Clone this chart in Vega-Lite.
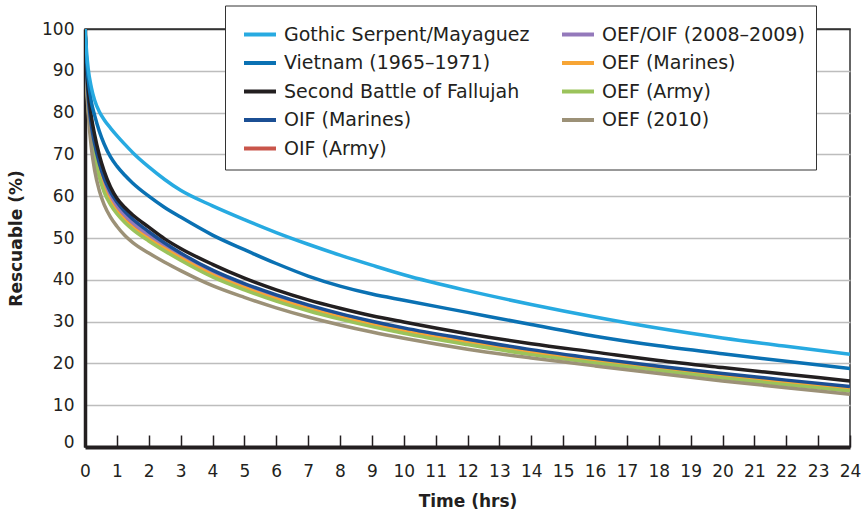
{
  "$schema": "https://vega.github.io/schema/vega-lite/v6.json",
  "width": 765,
  "height": 418,
  "autosize": {"type": "none"},
  "padding": {"left": 85, "top": 29, "right": 18, "bottom": 70},
  "background": "white",
  "config": {
    "font": "DejaVu Sans",
    "view": {"stroke": "#333333", "strokeWidth": 1.5},
    "axis": {"labelColor": "#231f20", "titleColor": "#231f20"}
  },
  "data": {
    "values": [
      {"t": 0, "OIF (Army)": 100, "OEF/OIF (2008–2009)": 100, "OEF (Marines)": 100, "OEF (Army)": 100, "OEF (2010)": 100, "OIF (Marines)": 100, "Second Battle of Fallujah": 100, "Vietnam (1965–1971)": 100, "Gothic Serpent/Mayaguez": 100},
      {"t": 0.05, "OIF (Army)": 89, "OEF/OIF (2008–2009)": 89.5, "OEF (Marines)": 88.5, "OEF (Army)": 88, "OEF (2010)": 87, "OIF (Marines)": 90.5, "Second Battle of Fallujah": 91, "Vietnam (1965–1971)": 92.5, "Gothic Serpent/Mayaguez": 94.5},
      {"t": 0.1, "OIF (Army)": 82, "OEF/OIF (2008–2009)": 82.5, "OEF (Marines)": 81.5, "OEF (Army)": 81, "OEF (2010)": 80, "OIF (Marines)": 84, "Second Battle of Fallujah": 85.5, "Vietnam (1965–1971)": 88, "Gothic Serpent/Mayaguez": 90.5},
      {"t": 0.2, "OIF (Army)": 74.8, "OEF/OIF (2008–2009)": 75.5, "OEF (Marines)": 74.2, "OEF (Army)": 73.6, "OEF (2010)": 71.5, "OIF (Marines)": 77, "Second Battle of Fallujah": 79, "Vietnam (1965–1971)": 82.5, "Gothic Serpent/Mayaguez": 86},
      {"t": 0.3, "OIF (Army)": 70.4, "OEF/OIF (2008–2009)": 71.2, "OEF (Marines)": 69.7, "OEF (Army)": 69.2, "OEF (2010)": 66.3, "OIF (Marines)": 72.6, "Second Battle of Fallujah": 74.8, "Vietnam (1965–1971)": 79.4, "Gothic Serpent/Mayaguez": 83},
      {"t": 0.45, "OIF (Army)": 65.8, "OEF/OIF (2008–2009)": 66.6, "OEF (Marines)": 65, "OEF (Army)": 64.5, "OEF (2010)": 61.3, "OIF (Marines)": 67.8, "Second Battle of Fallujah": 69.8, "Vietnam (1965–1971)": 75.5, "Gothic Serpent/Mayaguez": 80.2},
      {"t": 0.6, "OIF (Army)": 62.4, "OEF/OIF (2008–2009)": 63.2, "OEF (Marines)": 61.6, "OEF (Army)": 61, "OEF (2010)": 58, "OIF (Marines)": 64.3, "Second Battle of Fallujah": 66, "Vietnam (1965–1971)": 72.5, "Gothic Serpent/Mayaguez": 78.3},
      {"t": 0.8, "OIF (Army)": 59.3, "OEF/OIF (2008–2009)": 60, "OEF (Marines)": 58.6, "OEF (Army)": 58, "OEF (2010)": 55, "OIF (Marines)": 61, "Second Battle of Fallujah": 62.2, "Vietnam (1965–1971)": 69.4, "Gothic Serpent/Mayaguez": 76.3},
      {"t": 1, "OIF (Army)": 57, "OEF/OIF (2008–2009)": 57.6, "OEF (Marines)": 56.3, "OEF (Army)": 55.8, "OEF (2010)": 52.8, "OIF (Marines)": 58.6, "Second Battle of Fallujah": 59.5, "Vietnam (1965–1971)": 67.2, "Gothic Serpent/Mayaguez": 74.5},
      {"t": 1.25, "OIF (Army)": 54.8, "OEF/OIF (2008–2009)": 55.4, "OEF (Marines)": 54.2, "OEF (Army)": 53.7, "OEF (2010)": 50.6, "OIF (Marines)": 56.3, "Second Battle of Fallujah": 57.3, "Vietnam (1965–1971)": 65, "Gothic Serpent/Mayaguez": 72.4},
      {"t": 1.5, "OIF (Army)": 53, "OEF/OIF (2008–2009)": 53.6, "OEF (Marines)": 52.5, "OEF (Army)": 52, "OEF (2010)": 48.9, "OIF (Marines)": 54.5, "Second Battle of Fallujah": 55.5, "Vietnam (1965–1971)": 63.1, "Gothic Serpent/Mayaguez": 70.4},
      {"t": 2, "OIF (Army)": 50.2, "OEF/OIF (2008–2009)": 50.6, "OEF (Marines)": 49.8, "OEF (Army)": 49.3, "OEF (2010)": 46.4, "OIF (Marines)": 51.5, "Second Battle of Fallujah": 52.6, "Vietnam (1965–1971)": 60, "Gothic Serpent/Mayaguez": 67},
      {"t": 2.5, "OIF (Army)": 47.7, "OEF/OIF (2008–2009)": 48, "OEF (Marines)": 47.4, "OEF (Army)": 46.9, "OEF (2010)": 44.2, "OIF (Marines)": 48.8, "Second Battle of Fallujah": 49.8, "Vietnam (1965–1971)": 57.3, "Gothic Serpent/Mayaguez": 64},
      {"t": 3, "OIF (Army)": 45.4, "OEF/OIF (2008–2009)": 45.7, "OEF (Marines)": 45.2, "OEF (Army)": 44.7, "OEF (2010)": 42.2, "OIF (Marines)": 46.4, "Second Battle of Fallujah": 47.5, "Vietnam (1965–1971)": 55, "Gothic Serpent/Mayaguez": 61.4},
      {"t": 4, "OIF (Army)": 41.4, "OEF/OIF (2008–2009)": 41.7, "OEF (Marines)": 41.2, "OEF (Army)": 40.7, "OEF (2010)": 38.6, "OIF (Marines)": 42.3, "Second Battle of Fallujah": 43.7, "Vietnam (1965–1971)": 50.7, "Gothic Serpent/Mayaguez": 57.7},
      {"t": 5, "OIF (Army)": 38.3, "OEF/OIF (2008–2009)": 38.6, "OEF (Marines)": 38.1, "OEF (Army)": 37.6, "OEF (2010)": 35.8, "OIF (Marines)": 39.1, "Second Battle of Fallujah": 40.4, "Vietnam (1965–1971)": 47.2, "Gothic Serpent/Mayaguez": 54.4},
      {"t": 6, "OIF (Army)": 35.6, "OEF/OIF (2008–2009)": 35.9, "OEF (Marines)": 35.4, "OEF (Army)": 34.9, "OEF (2010)": 33.3, "OIF (Marines)": 36.4, "Second Battle of Fallujah": 37.6, "Vietnam (1965–1971)": 43.9, "Gothic Serpent/Mayaguez": 51.3},
      {"t": 7, "OIF (Army)": 33.3, "OEF/OIF (2008–2009)": 33.6, "OEF (Marines)": 33.1, "OEF (Army)": 32.6, "OEF (2010)": 31.1, "OIF (Marines)": 34, "Second Battle of Fallujah": 35.2, "Vietnam (1965–1971)": 40.9, "Gothic Serpent/Mayaguez": 48.5},
      {"t": 8, "OIF (Army)": 31.3, "OEF/OIF (2008–2009)": 31.5, "OEF (Marines)": 31.1, "OEF (Army)": 30.6, "OEF (2010)": 29.2, "OIF (Marines)": 31.9, "Second Battle of Fallujah": 33.2, "Vietnam (1965–1971)": 38.5, "Gothic Serpent/Mayaguez": 45.9},
      {"t": 9, "OIF (Army)": 29.5, "OEF/OIF (2008–2009)": 29.7, "OEF (Marines)": 29.3, "OEF (Army)": 28.8, "OEF (2010)": 27.5, "OIF (Marines)": 30.1, "Second Battle of Fallujah": 31.4, "Vietnam (1965–1971)": 36.6, "Gothic Serpent/Mayaguez": 43.5},
      {"t": 10, "OIF (Army)": 27.9, "OEF/OIF (2008–2009)": 28.1, "OEF (Marines)": 27.7, "OEF (Army)": 27.2, "OEF (2010)": 26, "OIF (Marines)": 28.5, "Second Battle of Fallujah": 29.9, "Vietnam (1965–1971)": 35.1, "Gothic Serpent/Mayaguez": 41.2},
      {"t": 12, "OIF (Army)": 25.2, "OEF/OIF (2008–2009)": 25.4, "OEF (Marines)": 25, "OEF (Army)": 24.5, "OEF (2010)": 23.4, "OIF (Marines)": 25.8, "Second Battle of Fallujah": 27.1, "Vietnam (1965–1971)": 32.2, "Gothic Serpent/Mayaguez": 37.4},
      {"t": 14, "OIF (Army)": 22.8, "OEF/OIF (2008–2009)": 23, "OEF (Marines)": 22.6, "OEF (Army)": 22.1, "OEF (2010)": 21.3, "OIF (Marines)": 23.3, "Second Battle of Fallujah": 24.7, "Vietnam (1965–1971)": 29.3, "Gothic Serpent/Mayaguez": 34.1},
      {"t": 16, "OIF (Army)": 20.7, "OEF/OIF (2008–2009)": 20.9, "OEF (Marines)": 20.6, "OEF (Army)": 20.1, "OEF (2010)": 19.4, "OIF (Marines)": 21.2, "Second Battle of Fallujah": 22.7, "Vietnam (1965–1971)": 26.5, "Gothic Serpent/Mayaguez": 31.1},
      {"t": 18, "OIF (Army)": 18.9, "OEF/OIF (2008–2009)": 19, "OEF (Marines)": 18.8, "OEF (Army)": 18.3, "OEF (2010)": 17.6, "OIF (Marines)": 19.3, "Second Battle of Fallujah": 20.7, "Vietnam (1965–1971)": 24.2, "Gothic Serpent/Mayaguez": 28.4},
      {"t": 20, "OIF (Army)": 17.1, "OEF/OIF (2008–2009)": 17.3, "OEF (Marines)": 17, "OEF (Army)": 16.5, "OEF (2010)": 15.8, "OIF (Marines)": 17.6, "Second Battle of Fallujah": 19, "Vietnam (1965–1971)": 22.3, "Gothic Serpent/Mayaguez": 26.1},
      {"t": 22, "OIF (Army)": 15.5, "OEF/OIF (2008–2009)": 15.7, "OEF (Marines)": 15.4, "OEF (Army)": 14.9, "OEF (2010)": 14.2, "OIF (Marines)": 16, "Second Battle of Fallujah": 17.4, "Vietnam (1965–1971)": 20.5, "Gothic Serpent/Mayaguez": 24.1},
      {"t": 24, "OIF (Army)": 14.1, "OEF/OIF (2008–2009)": 14.2, "OEF (Marines)": 14, "OEF (Army)": 13.4, "OEF (2010)": 12.6, "OIF (Marines)": 14.5, "Second Battle of Fallujah": 15.8, "Vietnam (1965–1971)": 18.8, "Gothic Serpent/Mayaguez": 22.2}
    ]
  },
  "transform": [
    {"fold": ["OIF (Army)", "OEF/OIF (2008–2009)", "OEF (Marines)", "OEF (Army)", "OEF (2010)", "OIF (Marines)", "Second Battle of Fallujah", "Vietnam (1965–1971)", "Gothic Serpent/Mayaguez"], "as": ["series", "v"]}
  ],
  "mark": {"type": "line", "interpolate": "monotone", "strokeWidth": 3.5, "clip": true},
  "encoding": {
    "x": {
      "field": "t",
      "type": "quantitative",
      "scale": {"domain": [0, 24], "nice": false},
      "axis": {
        "title": "Time (hrs)",
        "titleFontSize": 17,
        "titleFontWeight": "bold",
        "titlePadding": 14,
        "values": [0,1,2,3,4,5,6,7,8,9,10,11,12,13,14,15,16,17,18,19,20,21,22,23,24],
        "labelFontSize": 17,
        "labelPadding": 28,
        "labelFlush": false,
        "labelOverlap": false,
        "grid": false,
        "domainColor": "#231f20",
        "domainWidth": 4,
        "tickColor": "#231f20",
        "tickWidth": 1.5,
        "tickSize": -12
      }
    },
    "y": {
      "field": "v",
      "type": "quantitative",
      "scale": {"domain": [0, 100], "nice": false},
      "axis": {
        "title": "Rescuable (%)",
        "titleFontSize": 17,
        "titleFontWeight": "bold",
        "titlePadding": 16,
        "values": [0,10,20,30,40,50,60,70,80,90,100],
        "labelFontSize": 17,
        "labelPadding": 11,
        "labelFlush": false,
        "labelOffset": {"condition": {"test": "datum.value === 0", "value": -5}, "value": 0},
        "ticks": false,
        "tickSize": 0,
        "domainColor": "#231f20",
        "domainWidth": 3.5,
        "grid": true,
        "gridColor": {"condition": {"test": "datum.value === 100", "value": "#333333"}, "value": "#bdbdbd"},
        "gridWidth": 1.5
      }
    },
    "color": {
      "field": "series",
      "type": "nominal",
      "scale": {
        "domain": ["Gothic Serpent/Mayaguez", "Vietnam (1965–1971)", "Second Battle of Fallujah", "OIF (Marines)", "OIF (Army)", "OEF/OIF (2008–2009)", "OEF (Marines)", "OEF (Army)", "OEF (2010)"],
        "range": ["#27aae1", "#0a71b3", "#231f20", "#1b4f94", "#c9554a", "#9479bb", "#f7a535", "#9bc35b", "#9c9177"]
      },
      "legend": {
        "title": null,
        "orient": "none",
        "legendX": 140,
        "legendY": -23.5,
        "columns": 2,
        "columnPadding": 24,
        "rowPadding": 0.5,
        "padding": 11,
        "symbolOffset": 6,
        "strokeColor": "#333333",
        "fillColor": "white",
        "labelFontSize": 19,
        "labelColor": "#231f20",
        "labelOffset": 6,
        "labelLimit": 400,
        "symbolType": "stroke",
        "symbolSize": 1024,
        "symbolStrokeWidth": 4
      }
    }
  }
}
